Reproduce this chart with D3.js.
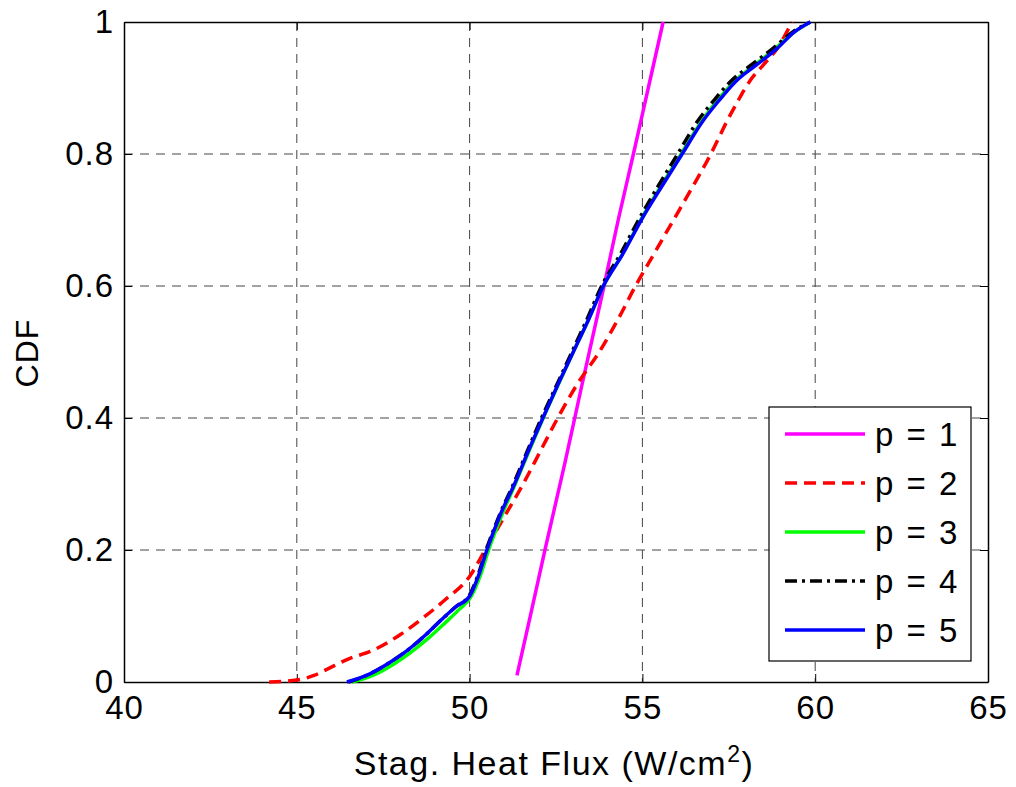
<!DOCTYPE html>
<html>
<head>
<meta charset="utf-8">
<script src="https://cdn.jsdelivr.net/npm/d3@7"></script>
<style>
  body { margin: 0; background: #fff; }
  text { font-family: "Liberation Sans", Arial, sans-serif; }
</style>
</head>
<body>
<div id="chart"></div>
<script>
// x ticks / y ticks
var x_ticks = [40, 45, 50, 55, 60, 65];
var y_ticks = [0, 0.2, 0.4, 0.6, 0.8, 1];

// CDF curves: [heat flux, cdf]
var p1 = [[51.37, 0.01], [51.8, 0.11], [52.18, 0.2], [52.75, 0.33], [53.25, 0.45],
          [53.89, 0.6], [54.3, 0.7], [54.74, 0.8], [55.17, 0.9], [55.6, 1.0]];
var p2 = [[44.2, 0.0], [45.0, 0.003], [45.5, 0.01], [45.9, 0.02], [46.5, 0.035],
          [47.2, 0.048], [48.0, 0.072], [48.6, 0.095], [49.3, 0.125], [50.0, 0.16],
          [50.45, 0.2], [51.0, 0.25], [51.55, 0.3], [52.05, 0.35], [52.55, 0.4],
          [53.1, 0.45], [53.75, 0.5], [54.3, 0.55], [54.8, 0.6], [55.35, 0.65],
          [55.9, 0.7], [56.45, 0.75], [56.98, 0.8], [57.45, 0.85], [57.76, 0.88],
          [58.1, 0.91], [58.5, 0.935], [58.9, 0.96], [59.33, 1.0]];
var p3 = [[46.6, 0.0], [47.2, 0.01], [47.8, 0.027], [48.3, 0.045], [48.8, 0.066],
          [49.3, 0.09], [49.7, 0.11], [50.05, 0.13], [50.3, 0.16], [50.55, 0.2],
          [50.95, 0.255], [51.32, 0.3], [51.72, 0.35], [52.13, 0.4], [52.56, 0.45],
          [53.0, 0.5], [53.45, 0.55], [53.87, 0.6], [54.44, 0.65], [54.98, 0.703],
          [55.52, 0.75], [56.12, 0.8], [56.72, 0.85], [57.15, 0.88], [57.66, 0.91],
          [58.25, 0.935], [58.85, 0.96], [59.4, 0.985], [59.86, 1.0]];
var p4 = [[46.5, 0.0], [47.1, 0.012], [47.7, 0.03], [48.2, 0.048], [48.7, 0.07],
          [49.2, 0.095], [49.6, 0.114], [50.0, 0.132], [50.23, 0.16], [50.48, 0.2],
          [50.88, 0.255], [51.27, 0.3], [51.67, 0.35], [52.08, 0.4], [52.52, 0.45],
          [52.96, 0.5], [53.4, 0.55], [53.82, 0.6], [54.38, 0.65], [54.92, 0.703],
          [55.44, 0.75], [56.02, 0.8], [56.6, 0.85], [57.05, 0.88], [57.55, 0.91],
          [58.15, 0.935], [58.78, 0.96], [59.35, 0.985], [59.86, 1.0]];
var p5 = [[46.45, 0.0], [47.1, 0.012], [47.7, 0.03], [48.2, 0.048], [48.7, 0.07],
          [49.2, 0.095], [49.6, 0.114], [50.0, 0.13], [50.25, 0.16], [50.5, 0.2],
          [50.9, 0.255], [51.3, 0.3], [51.7, 0.35], [52.12, 0.4], [52.55, 0.45],
          [53.0, 0.5], [53.45, 0.55], [53.87, 0.6], [54.45, 0.65], [55.0, 0.703],
          [55.55, 0.75], [56.15, 0.8], [56.75, 0.85], [57.2, 0.88], [57.7, 0.91],
          [58.3, 0.935], [58.9, 0.96], [59.4, 0.985], [59.86, 1.0]];

var series = [
  { name: 'p = 1', data: p1, color: '#ff00ff', dash: null },
  { name: 'p = 2', data: p2, color: '#ff0000', dash: '12,7' },
  { name: 'p = 3', data: p3, color: '#00ff00', dash: null },
  { name: 'p = 4', data: p4, color: '#000000', dash: '12,5,3,5' },
  { name: 'p = 5', data: p5, color: '#0000ff', dash: null }
];

var width = 1016, height = 787;
var m_left = 124, m_right = 988, m_top = 22, m_bottom = 682;

var svg = d3.select('#chart').append('svg')
  .attr('width', width)
  .attr('height', height);

var x_scale = d3.scaleLinear().domain([40, 65]).range([m_left, m_right]);
var y_scale = d3.scaleLinear().domain([0, 1]).range([m_bottom, m_top]);

// grid
svg.append('g').selectAll('line').data(x_ticks.slice(1, -1)).enter().append('line')
  .attr('x1', function(d) { return x_scale(d); })
  .attr('x2', function(d) { return x_scale(d); })
  .attr('y1', m_top).attr('y2', m_bottom)
  .attr('stroke', '#444').attr('stroke-width', 1).attr('stroke-dasharray', '9,7');
svg.append('g').selectAll('line').data(y_ticks.slice(1, -1)).enter().append('line')
  .attr('y1', function(d) { return y_scale(d); })
  .attr('y2', function(d) { return y_scale(d); })
  .attr('x1', m_left).attr('x2', m_right)
  .attr('stroke', '#444').attr('stroke-width', 1).attr('stroke-dasharray', '9,7');

// axes (inner ticks, box on all four sides)
function styleAxis(g) {
  g.selectAll('path').attr('stroke', '#000').attr('stroke-width', 1.5);
  g.selectAll('line').attr('stroke', '#000').attr('stroke-width', 1);
  g.selectAll('text').style('font-family', '"Liberation Sans", Arial, sans-serif')
    .style('font-size', '33px').style('letter-spacing', '1px').attr('fill', '#000');
}

svg.append('g')
  .attr('transform', 'translate(0,' + m_bottom + ')')
  .call(d3.axisBottom(x_scale).tickValues(x_ticks).tickSize(-8).tickSizeOuter(0).tickPadding(14).tickFormat(d3.format('d')))
  .call(styleAxis);
svg.append('g')
  .attr('transform', 'translate(0,' + m_top + ')')
  .call(d3.axisTop(x_scale).tickValues(x_ticks).tickSize(-8).tickSizeOuter(0).tickFormat(''))
  .call(styleAxis);
svg.append('g')
  .attr('transform', 'translate(' + m_left + ',0)')
  .call(d3.axisLeft(y_scale).tickValues(y_ticks).tickSize(-8).tickSizeOuter(0).tickPadding(10)
    .tickFormat(function(d) { return d === 0 || d === 1 ? d3.format('d')(d) : d3.format('.1f')(d); }))
  .call(styleAxis);
svg.append('g')
  .attr('transform', 'translate(' + m_right + ',0)')
  .call(d3.axisRight(y_scale).tickValues(y_ticks).tickSize(-8).tickSizeOuter(0).tickFormat(''))
  .call(styleAxis);

// curves
var line = d3.line()
  .curve(d3.curveMonotoneX)
  .x(function(d) { return x_scale(d[0]); })
  .y(function(d) { return y_scale(d[1]); });

series.forEach(function(s) {
  svg.append('path')
    .datum(s.data)
    .attr('fill', 'none')
    .attr('stroke', s.color)
    .attr('stroke-width', 3.5)
    .attr('stroke-dasharray', s.dash)
    .attr('d', line);
});

// axis labels
svg.append('text')
  .attr('transform', 'translate(38,353) rotate(-90)')
  .attr('text-anchor', 'middle')
  .style('font-size', '32px')
  .style('letter-spacing', '1px')
  .text('CDF');

var xl = svg.append('text')
  .attr('x', 554)
  .attr('y', 775)
  .attr('text-anchor', 'middle')
  .style('font-size', '34px')
  .style('letter-spacing', '1.5px');
xl.append('tspan').text('Stag. Heat Flux (W/cm');
xl.append('tspan').attr('dy', -13).style('font-size', '23px').text('2');
xl.append('tspan').attr('dy', 13).text(')');

// legend
var lg = svg.append('g');
lg.append('rect')
  .attr('x', 769).attr('y', 407)
  .attr('width', 202).attr('height', 254)
  .attr('fill', '#fff').attr('stroke', '#000').attr('stroke-width', 1.2);

series.forEach(function(s, i) {
  var yy = 434 + i * 49;
  lg.append('line')
    .attr('x1', 785).attr('x2', 865)
    .attr('y1', yy).attr('y2', yy)
    .attr('stroke', s.color).attr('stroke-width', 3.5)
    .attr('stroke-dasharray', s.dash);
  lg.append('text')
    .attr('x', 875).attr('y', yy + 12)
    .style('font-size', '33px')
    .style('letter-spacing', '2px')
    .text(s.name);
});
</script>
</body>
</html>
